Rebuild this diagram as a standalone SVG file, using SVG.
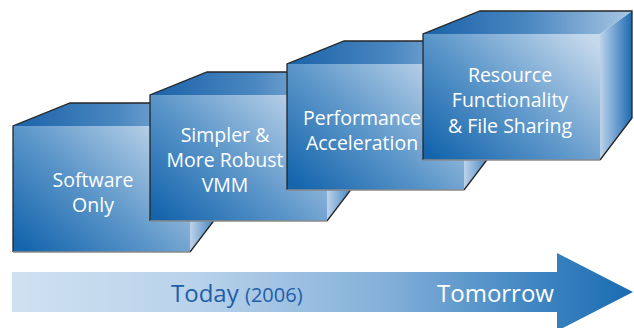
<svg xmlns="http://www.w3.org/2000/svg" width="634" height="328" viewBox="0 0 634 328">
  <style>
    .front { fill: url(#gFront); }
    .top { fill: url(#gTop); }
    .side { fill: url(#gSide); }
    .outline { fill: none; stroke: #262626; stroke-width: 1.3; stroke-linejoin: miter; }
    .bottom { stroke: #8a8a8a; stroke-width: 1.3; }
    .label { font-family: "Open Sans", "Noto Sans", sans-serif; font-size: 19.5px; fill: #ffffff; text-anchor: middle; }
    .today { font-family: "Open Sans", "Noto Sans", sans-serif; font-size: 24px; fill: #1f5ea8; }
    .year { font-family: "Open Sans", "Noto Sans", sans-serif; font-size: 20px; fill: #1f5ea8; }
    .tomorrow { font-family: "Open Sans", "Noto Sans", sans-serif; font-size: 24px; fill: #ffffff; }
  </style>
  <defs>
    <linearGradient id="gFront" x1="0" y1="0.9" x2="1" y2="0.1">
      <stop offset="0" stop-color="#1565ad"/>
      <stop offset="0.45" stop-color="#5c96c9"/>
      <stop offset="1" stop-color="#c6d9ec"/>
    </linearGradient>
    <linearGradient id="gTop" x1="0" y1="0" x2="1" y2="0">
      <stop offset="0" stop-color="#1a62a8"/>
      <stop offset="0.5" stop-color="#4a87c1"/>
      <stop offset="1" stop-color="#a9c7e3"/>
    </linearGradient>
    <linearGradient id="gSide" x1="0" y1="0" x2="1" y2="0">
      <stop offset="0" stop-color="#bcd3ea"/>
      <stop offset="0.5" stop-color="#6d9fcf"/>
      <stop offset="1" stop-color="#1a6ab0"/>
    </linearGradient>
    <linearGradient id="gArrow" gradientUnits="userSpaceOnUse" x1="12" y1="0" x2="633" y2="0">
      <stop offset="0" stop-color="#cfe1f1"/>
      <stop offset="0.3" stop-color="#b8d2ea"/>
      <stop offset="0.6" stop-color="#84b0d9"/>
      <stop offset="0.85" stop-color="#3d84c1"/>
      <stop offset="1" stop-color="#1a6bb2"/>
    </linearGradient>
  </defs>

  <g id="timeline-arrow">
    <polygon points="12,272 557,272 557,253 633,292 557,331 557,312 12,312" fill="url(#gArrow)"/>
    <text x="171" y="302" class="today">Today<tspan class="year" x="245">(2006)</tspan></text>
    <text x="437" y="302" class="tomorrow">Tomorrow</text>
  </g>

  <g id="cube-software-only">
    <polygon class="side" points="190,126 222,103 222,210 190,252"/>
    <polygon class="top" points="13,126 70,103 222,103 190,126"/>
    <rect class="front" x="13" y="126" width="177" height="126"/>
    <polyline class="outline" points="13,252 13,126 70,103 222,103 222,210 190,252"/>
    <line class="bottom" x1="13" y1="252" x2="190" y2="252"/>
    <text class="label" x="93" y="187">Software</text>
    <text class="label" x="93" y="212">Only</text>
  </g>

  <g id="cube-simpler-vmm">
    <polygon class="side" points="327,95 359,72 359,179 327,221"/>
    <polygon class="top" points="150,95 207,72 359,72 327,95"/>
    <rect class="front" x="150" y="95" width="177" height="126"/>
    <polyline class="outline" points="150,221 150,95 207,72 359,72 359,179 327,221"/>
    <line class="bottom" x1="150" y1="221" x2="327" y2="221"/>
    <text class="label" x="225" y="142">Simpler &amp;</text>
    <text class="label" x="225" y="167">More Robust</text>
    <text class="label" x="225" y="192">VMM</text>
  </g>

  <g id="cube-performance">
    <polygon class="side" points="464,64 496,41 496,148 464,190"/>
    <polygon class="top" points="287,64 344,41 496,41 464,64"/>
    <rect class="front" x="287" y="64" width="177" height="126"/>
    <polyline class="outline" points="287,190 287,64 344,41 496,41 496,148 464,190"/>
    <line class="bottom" x1="287" y1="190" x2="464" y2="190"/>
    <text class="label" x="362" y="125">Performance</text>
    <text class="label" x="362" y="150">Acceleration</text>
  </g>

  <g id="cube-resource">
    <polygon class="side" points="600,34 632,11 632,118 600,160"/>
    <polygon class="top" points="423,34 480,11 632,11 600,34"/>
    <rect class="front" x="423" y="34" width="177" height="126"/>
    <polyline class="outline" points="423,160 423,34 480,11 632,11 632,118 600,160"/>
    <line class="bottom" x1="423" y1="160" x2="600" y2="160"/>
    <text class="label" x="510" y="82">Resource</text>
    <text class="label" x="510" y="107">Functionality</text>
    <text class="label" x="510" y="133">&amp; File Sharing</text>
  </g>
</svg>
